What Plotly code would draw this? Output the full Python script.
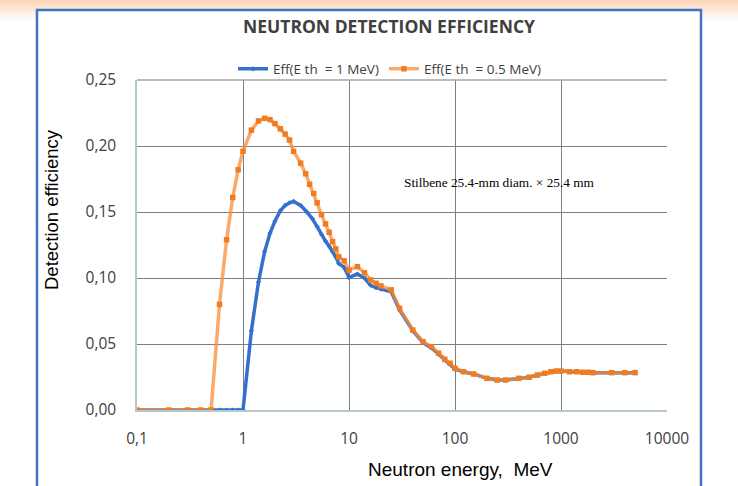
import plotly.graph_objects as go

# ---- data ----
energy_05 = [0.1, 0.2, 0.3, 0.4, 0.5, 0.6, 0.7, 0.8, 0.9, 1.0, 1.2, 1.4, 1.6, 1.8, 2.0, 2.25, 2.5, 2.75,
             3.0, 3.5, 3.9, 4.25, 4.65, 5.0, 5.5, 6.0, 6.5, 7.0, 7.5, 8.0, 9.0, 10, 12, 14, 16, 18, 20, 25,
             30, 40, 50, 60, 70, 80, 90, 100, 120, 150, 200, 250, 300, 400, 500, 600, 700, 800, 900,
             1000, 1200, 1400, 1600, 1800, 2000, 3000, 4000, 5000]
eff_05 = [0, 0, 0, 0, 0, 0.080, 0.129, 0.161, 0.182, 0.196, 0.212, 0.219, 0.221, 0.220, 0.217, 0.213,
          0.209, 0.2045, 0.196, 0.187, 0.179, 0.171, 0.164, 0.157, 0.148, 0.141, 0.1346, 0.1275, 0.122,
          0.116, 0.113, 0.106, 0.1086, 0.104, 0.0985, 0.096, 0.094, 0.091, 0.077, 0.0606, 0.0517, 0.048,
          0.043, 0.0384, 0.0354, 0.0316, 0.029, 0.0273, 0.024, 0.0227, 0.0227, 0.024, 0.0248, 0.0265,
          0.0278, 0.029, 0.0295, 0.0295, 0.029, 0.029, 0.0286, 0.0286, 0.0283, 0.0283, 0.0283, 0.0283]

energy_1 = [0.1, 0.2, 0.3, 0.4, 0.5, 0.6, 0.7, 0.8, 0.9, 1.0, 1.2, 1.4, 1.6, 1.8, 2.0, 2.25, 2.5, 2.75,
            3.0, 3.5, 4.0, 4.5, 5.0, 5.5, 6.0, 6.5, 7.0, 7.5, 8.0, 9.0, 10, 12, 14, 16, 18, 20, 25,
            30, 40, 50, 60, 70, 80, 90, 100, 120, 150, 200, 250, 300, 400, 500, 600, 700, 800, 900,
            1000, 1200, 1400, 1600, 1800, 2000, 3000, 4000, 5000]
eff_1 = [0, 0, 0, 0, 0, 0, 0, 0, 0, 0, 0.060, 0.097, 0.120, 0.134, 0.143, 0.151, 0.155, 0.157,
         0.158, 0.155, 0.150, 0.145, 0.139, 0.133, 0.128, 0.124, 0.120, 0.116, 0.111, 0.108, 0.1005,
         0.103, 0.100, 0.0945, 0.0927, 0.0915, 0.0896, 0.0758, 0.060, 0.051, 0.047, 0.0424, 0.038,
         0.035, 0.031, 0.029, 0.0273, 0.024, 0.0227, 0.0227, 0.024, 0.0248, 0.0265, 0.0278, 0.029,
         0.0295, 0.0295, 0.029, 0.029, 0.0286, 0.0286, 0.0283, 0.0283, 0.0283, 0.0283]

x_tickvals = [0.1, 1, 10, 100, 1000, 10000]
x_ticktext = ["0,1", "1", "10", "100", "1000", "10000"]
y_tickvals = [0, 0.05, 0.10, 0.15, 0.20, 0.25]
y_ticktext = ["0,00", "0,05", "0,10", "0,15", "0,20", "0,25"]

title_text = "NEUTRON DETECTION EFFICIENCY"
note_text = "Stilbene 25.4-mm diam. × 25.4 mm"

# ---- layout geometry (pixels) ----
W, H = 738, 486
L, R, T, B = 137, 667, 80, 410
pw, ph = R - L, B - T


def px(xp):
    return (xp - L) / pw


def py(yp):
    return (B - yp) / ph


fig = go.Figure()

fig.add_trace(go.Scatter(
    x=energy_1, y=eff_1, mode="lines+markers", name="Eff(E th \u00a0= 1 MeV)",
    line=dict(color="#3470CC", width=3.5),
    marker=dict(symbol="diamond", size=4, color="#3470CC"),
))
fig.add_trace(go.Scatter(
    x=energy_05, y=eff_05, mode="lines+markers", name="Eff(E th \u00a0= 0.5 MeV)",
    line=dict(color="rgba(250,140,55,0.75)", width=3.5),
    marker=dict(symbol="square", size=5.5, color="#F07C22"),
))

shapes = []
# peach gradient strip at the top of the page
grad = ["#FBD6BA", "#FCDDC6", "#FDE4D2", "#FDEBDE", "#FEF1E8", "#FEF6F1", "#FFFBF8"]
for i, c in enumerate(grad):
    shapes.append(dict(type="rect", xref="paper", yref="paper", layer="below",
                       x0=px(0), x1=px(W), y0=py(i * 3), y1=py(i * 3 + 3),
                       fillcolor=c, line=dict(width=0)))
# white chart frame interior + blue border
shapes.append(dict(type="rect", xref="paper", yref="paper", layer="below",
                   x0=px(37), x1=px(701), y0=py(495), y1=py(10),
                   fillcolor="white", line=dict(color="#4472C4", width=2.5)))
# lighter top border of plot area
shapes.append(dict(type="line", xref="paper", yref="paper", layer="above",
                   x0=0, x1=1, y0=1, y1=1, line=dict(color="#A6A6A6", width=1.5)))

annotations = [
    dict(text="<b>" + title_text + "</b>", xref="paper", yref="paper", x=px(389), y=py(26),
         showarrow=False, xanchor="center", yanchor="middle",
         font=dict(family="Open Sans", size=17.5, color="#404040")),
    dict(text=note_text, xref="paper", yref="paper", x=px(402), y=py(182),
         showarrow=False, xanchor="left", yanchor="middle",
         font=dict(family="Liberation Serif", size=13.3, color="#000000")),
    dict(text="Detection efficiency", xref="paper", yref="paper", x=px(51), y=py(210),
         showarrow=False, xanchor="center", yanchor="middle", textangle=-90,
         font=dict(family="Liberation Sans", size=18.5, color="#000000")),
    dict(text="Neutron energy, \u00a0MeV", xref="paper", yref="paper", x=px(460), y=py(469),
         showarrow=False, xanchor="center", yanchor="middle",
         font=dict(family="Liberation Sans", size=19, color="#000000")),
]

fig.update_layout(
    width=W, height=H,
    margin=dict(l=L, r=W - R, t=T, b=H - B, pad=0),
    paper_bgcolor="white",
    plot_bgcolor="rgba(0,0,0,0)",
    showlegend=True,
    legend=dict(orientation="h", x=px(390), y=py(69), xanchor="center", yanchor="middle",
                font=dict(family="Open Sans", size=13.5, color="#404040"),
                bgcolor="rgba(0,0,0,0)", itemwidth=30, tracegroupgap=0),
    shapes=shapes,
    annotations=annotations,
    xaxis=dict(type="log", range=[-1, 4], tickvals=x_tickvals, ticktext=x_ticktext,
               showgrid=True, gridcolor="#7F7F7F", gridwidth=1,
               showline=True, linecolor="#B4C8D0", linewidth=1.5, mirror=False,
               ticks="", ticklabelstandoff=14,
               tickfont=dict(family="Open Sans", size=15.5, color="#404040"), zeroline=False),
    yaxis=dict(range=[0, 0.25], tickvals=y_tickvals, ticktext=y_ticktext,
               showgrid=True, gridcolor="#7F7F7F", gridwidth=1,
               showline=True, linecolor="#B4C8D0", linewidth=1.5,
               ticks="", ticklabelstandoff=16,
               tickfont=dict(family="Open Sans", size=15.5, color="#404040"), zeroline=False),
)

fig.write_html("out.html")
